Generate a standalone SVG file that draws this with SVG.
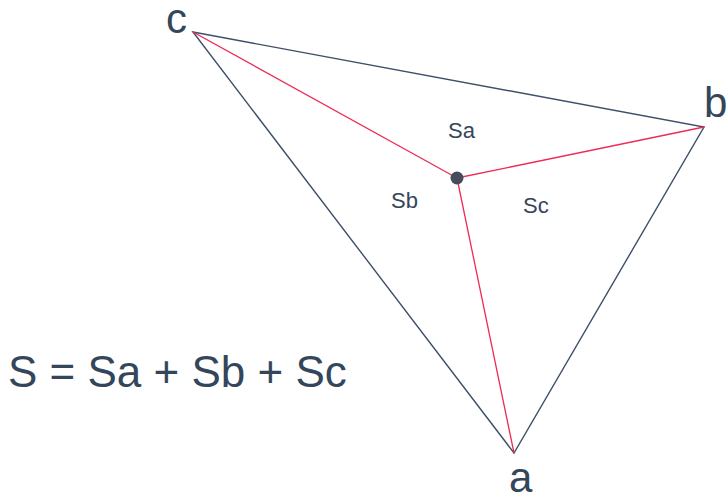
<svg xmlns="http://www.w3.org/2000/svg" width="728" height="495" viewBox="0 0 728 495">
<style>
.edge{stroke:#3e4f68;stroke-width:1.4;fill:none;stroke-linecap:round}
.red{stroke:#ee2a55;stroke-width:1.3;fill:none;stroke-linecap:round}
.lbl{font-family:"Liberation Sans",Arial,sans-serif;fill:#34465a}
.v{font-size:42px}
.s{font-size:22px}
</style>
<rect width="728" height="495" fill="#ffffff"/>
<g id="connectors">
<polygon class="edge" points="193,32 704,127 514,453"/>
<line class="red" x1="193" y1="32" x2="457" y2="178"/>
<line class="red" x1="704" y1="127" x2="457" y2="178"/>
<line class="red" x1="514" y1="453" x2="457" y2="178"/>
</g>
<g id="vertex-c"><text class="lbl v" x="166" y="33">c</text></g>
<g id="vertex-b"><text class="lbl v" x="704" y="117">b</text></g>
<g id="vertex-a"><text class="lbl v" x="509" y="492">a</text></g>
<g id="center"><circle cx="457" cy="178" r="6.5" fill="#484c5a"/></g>
<g id="Sa"><text class="lbl s" x="448" y="138">Sa</text></g>
<g id="Sb"><text class="lbl s" x="391" y="208">Sb</text></g>
<g id="Sc"><text class="lbl s" x="523" y="213">Sc</text></g>
<g id="formula"><text class="lbl" font-size="44" x="8" y="387">S = Sa + Sb + Sc</text></g>
</svg>
